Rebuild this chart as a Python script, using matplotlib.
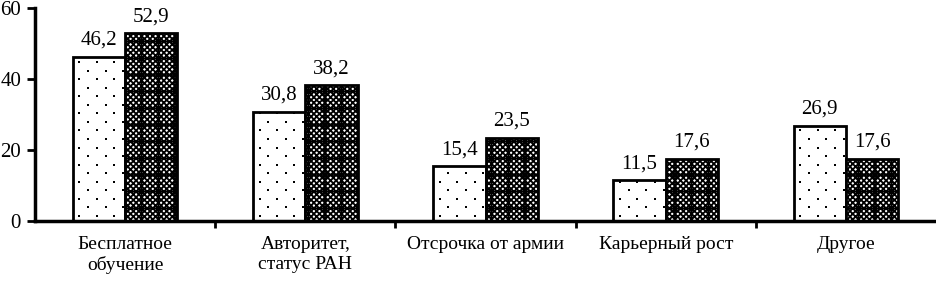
import matplotlib
matplotlib.use("Agg")
import matplotlib.pyplot as plt
import numpy as np

categories = ["Бесплатное\nобучение", "Авторитет,\nстатус РАН", "Отсрочка от армии", "Карьерный рост", "Другое"]
series_a = [46.2, 30.8, 15.4, 11.5, 26.9]
series_b = [52.9, 38.2, 23.5, 17.6, 17.6]
yticks = [0, 20, 40, 60]

plt.rcParams['font.family'] = ['Liberation Serif', 'DejaVu Serif']
plt.rcParams['hatch.linewidth'] = 1.3

fig = plt.figure(figsize=(9.36, 2.81), dpi=100)
ax = fig.add_axes([35/936, 60/281, 1 - 35/936, 213/281])

x = np.arange(len(categories))
w = 0.29
ba = ax.bar(x - w/2, series_a, w, facecolor='white', edgecolor='black', linewidth=2)
bb = ax.bar(x + w/2, series_b, w, facecolor='white', edgecolor='black', linewidth=2, hatch='+xxxxxx')

# sparse staggered dot texture inside the left bars, clipped to each bar
for rect in ba:
    x0, wd, h = rect.get_x(), rect.get_width(), rect.get_height()
    ys = np.arange(1.5, h, 2.4)
    px, py = [], []
    for i, yy in enumerate(ys):
        shift = (i % 2) * wd / 6
        for xx in np.arange(x0 + wd / 8 + shift, x0 + wd, wd / 3):
            px.append(xx)
            py.append(yy)
    sc = ax.scatter(px, py, s=4, marker='s', color='black', linewidths=0, zorder=3)
    sc.set_clip_path(rect)

for xi, v in zip(x - w/2, series_a):
    ax.annotate(f"{v:.1f}".replace('.', ','), (xi, v), xytext=(0, 5), textcoords='offset points',
                ha='center', va='bottom', fontsize=15)
for xi, v in zip(x + w/2, series_b):
    ax.annotate(f"{v:.1f}".replace('.', ','), (xi, v), xytext=(0, 5), textcoords='offset points',
                ha='center', va='bottom', fontsize=15)

ax.set_xlim(-0.5, len(categories) - 0.5)
ax.set_ylim(0, 60)
ax.set_yticks(yticks)
ax.set_yticklabels([str(t) for t in yticks], fontsize=15)
ax.set_xticks(x)
ax.set_xticklabels(categories, fontsize=14)
ax.set_xticks(np.arange(len(categories) - 1) + 0.5, minor=True)
ax.tick_params(axis='x', which='major', length=0, pad=11)
ax.tick_params(axis='x', which='minor', length=5, width=2, direction='out')
ax.tick_params(axis='y', length=6, width=2, direction='out', pad=4)

for s in ['top', 'right']:
    ax.spines[s].set_visible(False)
for s in ['left', 'bottom']:
    ax.spines[s].set_linewidth(2.5)

fig.savefig("out.png", dpi=100)
